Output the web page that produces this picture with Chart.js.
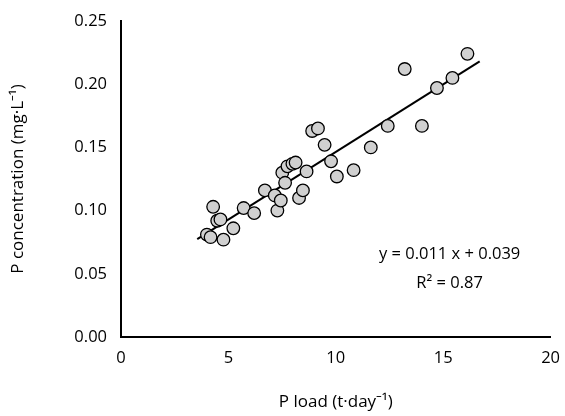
<!DOCTYPE html>
<html>
<head>
<meta charset="utf-8">
<script src="https://cdn.jsdelivr.net/npm/chart.js@4"></script>
<style>
  html, body { margin: 0; padding: 0; background: #fff; }
  #wrap { width: 565px; height: 416px; }
</style>
</head>
<body>
<div id="wrap"><canvas id="c"></canvas></div>
<script>
// P load (t/day) vs P concentration (mg/L)
const loadX = [4.0, 4.17, 4.29, 4.48, 4.63, 4.77, 5.23, 5.71, 6.2, 6.7, 7.16, 7.28, 7.44, 7.51, 7.64, 7.75, 7.98, 8.13, 8.29, 8.47, 8.64, 8.9, 9.17, 9.48, 9.78, 10.05, 10.83, 11.63, 12.42, 13.21, 14.01, 14.71, 15.43, 16.13];
const concY = [0.081, 0.079, 0.103, 0.092, 0.093, 0.077, 0.086, 0.102, 0.098, 0.116, 0.112, 0.1, 0.108, 0.13, 0.122, 0.135, 0.137, 0.138, 0.11, 0.116, 0.131, 0.163, 0.165, 0.152, 0.139, 0.127, 0.132, 0.15, 0.167, 0.212, 0.167, 0.197, 0.205, 0.224];
const fitX = [3.55, 16.7];
const fitY = [0.0775, 0.218];
const eqLines = ["y = 0.011 x + 0.039", "R² = 0.87"];
const eqPos = [[15.3, 0.0657], [15.3, 0.0427]];

const FONT = "'Open Sans', 'Noto Sans', sans-serif";

const labelPlugin = {
  id: "eqLabel",
  afterDatasetsDraw(chart) {
    const { ctx, scales: { x, y } } = chart;
    ctx.save();
    ctx.fillStyle = "#000";
    ctx.font = "16.5px " + FONT;
    ctx.textAlign = "center";
    ctx.textBaseline = "middle";
    eqLines.forEach((t, i) => ctx.fillText(t, x.getPixelForValue(eqPos[i][0]), y.getPixelForValue(eqPos[i][1])));
    ctx.restore();
  }
};

new Chart(document.getElementById("c"), {
  type: "scatter",
  data: {
    datasets: [
      {
        data: loadX.map((v, i) => ({ x: v, y: concY[i] })),
        pointRadius: 6.3,
        pointBackgroundColor: "#d0d0d0",
        pointBorderColor: "#000",
        pointBorderWidth: 1.3,
        order: 1
      },
      {
        type: "line",
        data: fitX.map((v, i) => ({ x: v, y: fitY[i] })),
        borderColor: "#000",
        borderWidth: 2,
        pointRadius: 0,
        order: 2
      }
    ]
  },
  options: {
    responsive: true,
    maintainAspectRatio: false,
    animation: false,
    layout: { padding: { top: 21, right: 12, left: 4, bottom: 0 } },
    plugins: { legend: { display: false }, tooltip: { enabled: false } },
    scales: {
      x: {
        type: "linear", min: 0, max: 20,
        ticks: { stepSize: 5, color: "#000", font: { family: FONT, size: 16.5 }, padding: 5 },
        grid: { display: false, drawTicks: true, tickLength: 6, color: "#000" },
        border: { color: "#000", width: 2 },
        title: { display: true, text: "P load (t·day⁻¹)", color: "#000", font: { family: FONT, size: 17 }, padding: { top: 6 } },
        afterFit: (s) => { s.height = 79; }
      },
      y: {
        min: 0, max: 0.25,
        ticks: { stepSize: 0.05, color: "#000", font: { family: FONT, size: 16.5 }, padding: 8, callback: (v) => v.toFixed(2) },
        grid: { display: false, drawTicks: true, tickLength: 6, color: "#000" },
        border: { color: "#000", width: 2 },
        title: { display: true, text: "P concentration (mg·L⁻¹)", color: "#000", font: { family: FONT, size: 17 }, padding: { bottom: 4 } },
        afterFit: (s) => { s.width = 117; }
      }
    }
  },
  plugins: [labelPlugin]
});
</script>
</body>
</html>
